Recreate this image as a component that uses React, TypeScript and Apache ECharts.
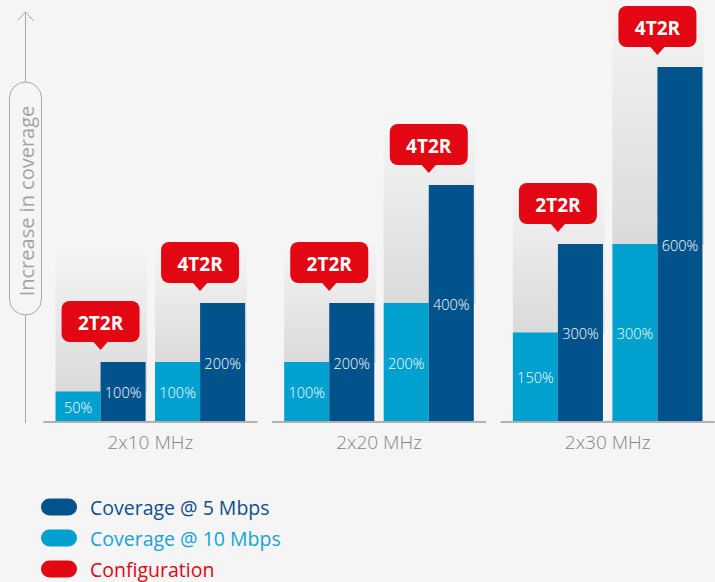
import React, { useEffect, useRef } from "react";
import * as echarts from "echarts";

// ---- data ----
const bandwidths = ["2x10 MHz", "2x20 MHz", "2x30 MHz"];
const configs = ["2T2R", "4T2R"];
const coverage10_2T2R = [50, 100, 150];
const coverage10_4T2R = [100, 200, 300];
const coverage5_2T2R = [100, 200, 300];
const coverage5_4T2R = [200, 400, 600];
// top of the grey shading column behind each pair (in %)
const shade_2T2R = [290, 300, 410];
const shade_4T2R = [290, 505, 713];

const DARK = "#02538c";
const LIGHT = "#00a0cf";
const RED = "#e30613";
const BG = "#f5f5f5";
const FONT = "'Open Sans', 'Noto Sans', sans-serif";

const PAIR_OFF = 0.2176;
const BAR_W = 0.197;

function pairRows(a: number[], b: number[]) {
  const rows: number[][] = [];
  a.forEach((v, i) => rows.push([i, v, 0]));
  b.forEach((v, i) => rows.push([i, v, 1]));
  return rows;
}

export default function App() {
  const ref = useRef<HTMLDivElement>(null);
  useEffect(() => {
    document.body.style.margin = "0";
    document.body.style.background = BG;
    const chart = echarts.init(ref.current!, null, { renderer: "svg" });

    const centerOf = (api: any, cat: number, pair: number) => {
      const base = api.coord([cat, 0]);
      const bw = api.size([1, 0])[0];
      return { cx: base[0] + (pair === 0 ? -1 : 1) * bw * PAIR_OFF, base: base[1], bw };
    };

    const shadeRows = pairRows(shade_2T2R, shade_4T2R).map((r) => {
      const light = r[2] === 0 ? coverage10_2T2R[r[0]] : coverage10_4T2R[r[0]];
      return [r[0], r[1], r[2], light];
    });

    const barRender = (isDark: boolean) => (params: any, api: any) => {
      const cat = api.value(0);
      const v = api.value(1);
      const pair = api.value(2);
      const { cx, base, bw } = centerOf(api, cat, pair);
      const w = bw * BAR_W;
      const top = api.coord([cat, v])[1];
      const x0 = isDark ? cx : cx - w;
      return {
        type: "group",
        children: [
          {
            type: "rect",
            shape: { x: x0, y: top, width: w, height: base - top },
            style: { fill: isDark ? DARK : LIGHT },
          },
          {
            type: "text",
            x: x0 + w / 2,
            y: (top + base) / 2 + 1,
            style: {
              text: v + "%",
              fill: "#ffffff",
              font: "300 14.5px " + FONT,
              align: "center",
              verticalAlign: "middle",
            },
          },
        ],
      };
    };

    const option: any = {
      animation: false,
      backgroundColor: BG,
      tooltip: { show: false },
      grid: { left: 36, width: 686, top: 8, bottom: 161, outerBoundsMode: "none", containLabel: false },
      xAxis: {
        type: "category",
        data: bandwidths,
        axisLine: { show: false },
        axisTick: { show: false },
        splitLine: { show: false },
        axisLabel: { fontSize: 19, fontWeight: 300, color: "#858585", fontFamily: FONT, margin: 11 },
      },
      yAxis: { type: "value", min: 0, max: 700, show: false },
      legend: {
        orient: "vertical",
        left: 41,
        top: 497,
        height: 85,
        padding: 0,
        itemWidth: 36,
        itemHeight: 17,
        itemGap: 11,
        icon: "path://M8.5,0 L27.5,0 A8.5,8.5 0 0 1 27.5,17 L8.5,17 A8.5,8.5 0 0 1 8.5,0 Z",
        selectedMode: false,
        textStyle: { fontSize: 19.5, fontFamily: FONT, lineHeight: 17, padding: [0, 0, 0, 8] },
        data: [
          { name: "Coverage @ 5 Mbps", textStyle: { color: "#0d4f8b" } },
          { name: "Coverage @ 10 Mbps", textStyle: { color: "#16a4d5" } },
          { name: "Configuration", textStyle: { color: RED } },
        ],
      },
      graphic: [
        { type: "line", shape: { x1: 25.5, y1: 12, x2: 25.5, y2: 423 }, style: { stroke: "#a8a8a8", lineWidth: 1 } },
        { type: "polyline", shape: { points: [[17.5, 20.5], [25.5, 12], [33.5, 20.5]] }, style: { stroke: "#a8a8a8", lineWidth: 1, fill: null } },
        { type: "rect", shape: { x: 9.5, y: 82, width: 32, height: 233, r: 16 }, style: { fill: BG, stroke: "#a8a8a8", lineWidth: 1 } },
        {
          type: "text",
          x: 26,
          y: 201,
          rotation: Math.PI / 2,
          style: { text: "Increase in coverage", font: "20px " + FONT, fill: "#a3a3a3", align: "center", verticalAlign: "middle" },
        },
      ],
      series: [
        {
          type: "custom",
          silent: true,
          data: shadeRows,
          renderItem: (params: any, api: any) => {
            const cat = api.value(0);
            const pair = api.value(2);
            const { cx, bw } = centerOf(api, cat, pair);
            const w = bw * BAR_W;
            const top = api.coord([cat, api.value(1)])[1];
            const bottom = api.coord([cat, api.value(3)])[1];
            return {
              type: "rect",
              shape: { x: cx - w, y: top, width: 2 * w + 1.5, height: bottom - top + 1 },
              style: {
                fill: new echarts.graphic.LinearGradient(0, 0, 0, 1, [
                  { offset: 0, color: "#f5f5f5" },
                  { offset: 1, color: "#dadada" },
                ]),
              },
            };
          },
        },
        {
          type: "custom",
          name: "Coverage @ 10 Mbps",
          silent: true,
          itemStyle: { color: LIGHT },
          data: pairRows(coverage10_2T2R, coverage10_4T2R),
          renderItem: barRender(false),
        },
        {
          type: "custom",
          name: "Coverage @ 5 Mbps",
          silent: true,
          itemStyle: { color: DARK },
          data: pairRows(coverage5_2T2R, coverage5_4T2R),
          renderItem: barRender(true),
        },
        {
          type: "custom",
          silent: true,
          data: bandwidths.map((_, i) => [i, 0]),
          renderItem: (params: any, api: any) => {
            const cat = api.value(0);
            const base = api.coord([cat, 0]);
            const bw = api.size([1, 0])[0];
            const y = base[1] + 1;
            return {
              type: "line",
              shape: { x1: base[0] - bw * 0.468, y1: y, x2: base[0] + bw * 0.468, y2: y },
              style: { stroke: "#9a9a9a", lineWidth: 1.5 },
            };
          },
        },
        {
          type: "custom",
          name: "Configuration",
          silent: true,
          itemStyle: { color: RED },
          data: pairRows(coverage5_2T2R, coverage5_4T2R),
          renderItem: (params: any, api: any) => {
            const cat = api.value(0);
            const pair = api.value(2);
            const { cx } = centerOf(api, cat, pair);
            const top = api.coord([cat, api.value(1)])[1];
            const tip = top - 12;
            const bb = tip - 8;
            const bt = bb - 41;
            return {
              type: "group",
              children: [
                { type: "rect", shape: { x: cx - 39, y: bt, width: 78, height: 41, r: 8 }, style: { fill: RED } },
                { type: "polygon", shape: { points: [[cx - 7.5, bb - 0.5], [cx + 7.5, bb - 0.5], [cx, tip]] }, style: { fill: RED } },
                {
                  type: "text",
                  x: cx,
                  y: (bt + bb) / 2 + 1,
                  style: {
                    text: configs[pair],
                    fill: "#ffffff",
                    font: "bold 19px " + FONT,
                    align: "center",
                    verticalAlign: "middle",
                  },
                },
              ],
            };
          },
        },
      ],
    };
    chart.setOption(option);
    return () => chart.dispose();
  }, []);
  return <div ref={ref} style={{ width: 715, height: 582 }} />;
}
